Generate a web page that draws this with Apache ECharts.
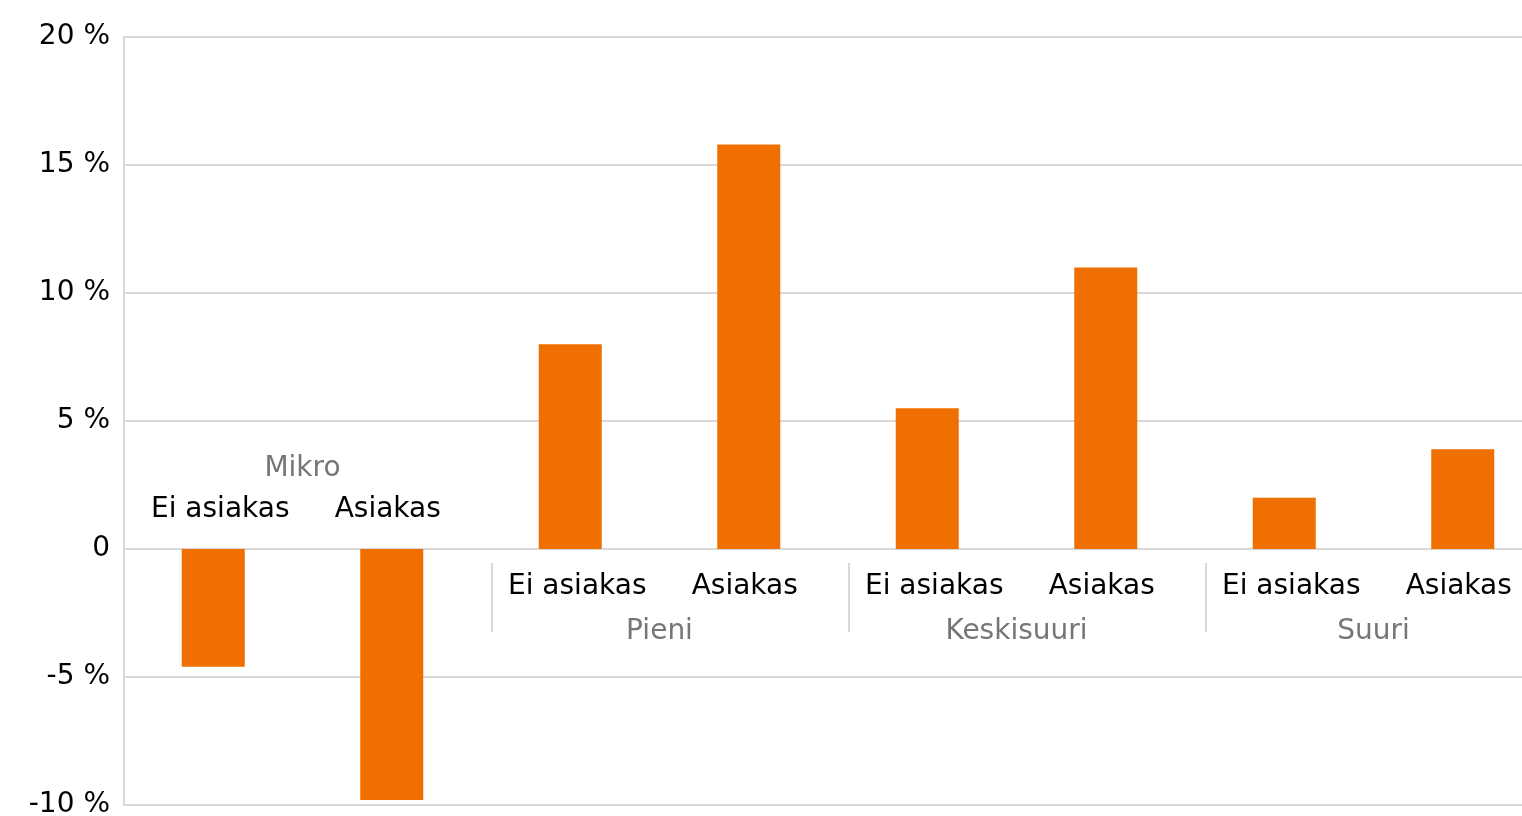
<!DOCTYPE html>
<html>
<head>
<meta charset="utf-8">
<script src="https://cdn.jsdelivr.net/npm/echarts@6/dist/echarts.min.js"></script>
<style>
  html, body { margin: 0; padding: 0; background: #fff; }
  #chart { width: 1522px; height: 816px; }
</style>
</head>
<body>
<div id="chart"></div>
<script>
// Company size groups, each split into non-customers and customers
const groups = ['Mikro', 'Pieni', 'Keskisuuri', 'Suuri'];
const categories = ['Ei asiakas', 'Asiakas', 'Ei asiakas', 'Asiakas', 'Ei asiakas', 'Asiakas', 'Ei asiakas', 'Asiakas'];
const values = [-4.6, -9.8, 8.0, 15.8, 5.5, 11.0, 2.0, 3.9];
const yTicks = { min: -10, max: 20, interval: 5 };

const FONT = '"DejaVu Sans", sans-serif';
const FS = 28;
const ORANGE = '#ef6f00';
const GRID = '#d9d9d9';

const chart = echarts.init(document.getElementById('chart'));

// Two-level category labels drawn next to the zero line
function renderLabels(params, api) {
  const i = api.value(0);
  const v = api.value(1);
  const p = api.coord([i, 0]);
  const children = [];
  const neg = v < 0;
  children.push({
    type: 'text',
    style: {
      x: p[0] + (i % 2 === 0 ? 7 : -4), y: p[1] + (neg ? -39 : 38),
      text: categories[i],
      fill: '#000', font: FS + 'px ' + FONT,
      align: 'center', verticalAlign: 'middle'
    }
  });
  if (i % 2 === 0) {
    const q = api.coord([i + 1, 0]);
    const g = i / 2;
    const groupNeg = values[i] < 0 && values[i + 1] < 0;
    children.push({
      type: 'text',
      style: {
        x: (p[0] + q[0]) / 2, y: p[1] + (groupNeg ? -80 : 83),
        text: groups[g],
        fill: '#767676', font: FS + 'px ' + FONT,
        align: 'center', verticalAlign: 'middle'
      }
    });
    if (i > 0) {
      const prev = api.coord([i - 1, 0]);
      const sx = Math.round((prev[0] + p[0]) / 2) + 11;
      children.push({
        type: 'line',
        shape: { x1: sx, y1: p[1] + 14, x2: sx, y2: p[1] + 83 },
        style: { stroke: GRID, lineWidth: 2 }
      });
    }
  }
  return { type: 'group', children };
}

chart.setOption({
  animation: false,
  grid: { left: 124, width: 1428, top: 37, bottom: 11, containLabel: false, outerBoundsMode: 'none' },
  xAxis: {
    type: 'category',
    data: categories,
    axisLine: { show: true, onZero: true, lineStyle: { color: GRID, width: 2 } },
    axisTick: { show: false },
    axisLabel: { show: false },
    splitLine: { show: false }
  },
  yAxis: {
    type: 'value',
    min: yTicks.min, max: yTicks.max, interval: yTicks.interval,
    axisLine: { show: true, lineStyle: { color: GRID, width: 2 } },
    axisTick: { show: false },
    splitLine: { lineStyle: { color: GRID, width: 2 } },
    axisLabel: {
      color: '#000', fontSize: FS, fontFamily: FONT, margin: 14,
      padding: [0, 0, 6, 0],
      formatter: v => v === 0 ? '0' : v + ' %'
    }
  },
  series: [
    {
      type: 'bar',
      data: values,
      barWidth: 63,
      itemStyle: { color: ORANGE },
      z: 3
    },
    {
      type: 'custom',
      data: categories.map((c, i) => [i, values[i]]),
      renderItem: renderLabels,
      silent: true,
      z: 4
    }
  ]
});
</script>
</body>
</html>
